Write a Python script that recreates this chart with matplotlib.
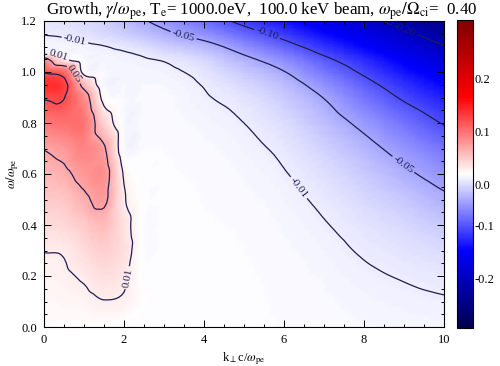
import numpy as np
import matplotlib
matplotlib.use("Agg")
import matplotlib.pyplot as plt
import matplotlib.tri as mtri
import matplotlib.transforms as mtrans
from matplotlib.ticker import MultipleLocator

plt.rcParams['font.family'] = ['Liberation Serif', 'DejaVu Serif']
plt.rcParams['mathtext.fontset'] = 'stix'

# ---------------- data ----------------
k_perp = [0, 0.5, 1, 1.5, 2, 2.5, 3, 4, 5, 6, 7, 8, 9, 10]
omega = [0, 0.1, 0.2, 0.3, 0.4, 0.5, 0.6, 0.7, 0.8, 0.9, 0.95, 1.0, 1.05, 1.075, 1.1, 1.15, 1.2]

# growth rate gamma/omega_pe in units of 1e-3, one row per omega value (columns follow k_perp)
g_w000 = [2, 1, 1, 0, -1, -1, -1.1, -1.3, -1.6, -2.4, -3.2, -4.2, -5.2, -5.9]
g_w010 = [4, 5, 6, 9.5, 8, 1, -1.1, -1.4, -1.7, -2.7, -3.9, -5.9, -7.6, -9.0]
g_w020 = [7, 8, 12, 18, 13, -1, -1.1, -1.5, -1.9, -3.1, -5.0, -8.2, -10.9, -13.5]
g_w030 = [10.5, 11.5, 20, 27, 18, -2, -1.2, -1.7, -2.2, -3.8, -6.6, -11.3, -15.6, -20.2]
g_w040 = [20, 22, 30, 38, 17, -2, -1.3, -2.0, -2.7, -4.9, -9.2, -15.6, -22.2, -30.2]
g_w050 = [30, 32, 45, 55, 12, -1, -1.5, -2.3, -3.5, -6.6, -12.8, -21.5, -31.5, -45.0]
g_w060 = [40, 45, 58, 62, 8, -1, -1.8, -2.8, -4.8, -9.2, -18.0, -29.9, -45.0, -60.8]
g_w070 = [51, 58, 70, 53, -3, -2, -2.3, -3.7, -6.8, -13.2, -25.8, -41.5, -60.3, -79.0]
g_w080 = [75, 80, 78, 26, -4, -3, -3.0, -5.6, -10.0, -19.5, -36.5, -57.0, -79.6, -102]
g_w090 = [103, 101, 65, 3, -4, -4, -3.6, -8.8, -15.8, -29.5, -50.8, -78.1, -104, -127]
g_w095 = [120, 110, 40, -3, -4.5, -4.5, -4.6, -10.8, -21.5, -37.5, -62, -90, -117, -142]
g_w100 = [98, 85, 3, -3, -5, -6, -6.8, -15.0, -30.5, -49, -77, -105, -133, -159]
g_w105 = [60, 11, -3, -5, -7, -9, -11.5, -23, -44, -65, -94, -121, -150, -177]
g_w1075 = [-1, -3, -5, -7, -9, -12.5, -18.5, -31, -53, -76, -105, -132, -160, -187]
g_w110 = [-4, -5, -7, -9.5, -13.5, -19, -27, -40, -63, -88, -116, -143, -171, -198]
g_w115 = [-10.5, -12, -16, -21, -27.5, -35, -44, -62, -86, -111, -139, -164, -192, -220]
g_w120 = [-14, -17, -21, -27, -36, -48, -59, -82, -109, -134, -161, -188, -216, -245]

contour_levels = [-0.20, -0.10, -0.05, -0.01, 0.01, 0.05, 0.10]
cbar_ticks = [-0.2, -0.1, 0.0, 0.1, 0.2]
cbar_range = 0.29

# ---------------- build the field ----------------
Z = np.array([g_w000, g_w010, g_w020, g_w030, g_w040, g_w050, g_w060, g_w070,
              g_w080, g_w090, g_w095, g_w100, g_w105, g_w1075, g_w110, g_w115, g_w120]) / 1000.0
K, W = np.meshgrid(k_perp, omega)
nk, nw = len(k_perp), len(omega)
tris = []
for j in range(nw - 1):
    for i in range(nk - 1):
        a = j * nk + i
        b = a + 1
        c = a + nk
        d = c + 1
        tris.append([a, b, d])
        tris.append([a, d, c])
sx, sy = 10.0, 1.2
tri_s = mtri.Triangulation(K.ravel() / sx, W.ravel() / sy, tris)
interp = mtri.CubicTriInterpolator(tri_s, Z.ravel(), kind='geom')
refiner = mtri.UniformTriRefiner(tri_s)
tri_r, z_r = refiner.refine_field(Z.ravel(), triinterpolator=interp, subdiv=3)
tri_p = mtri.Triangulation(tri_r.x * sx, tri_r.y * sy, tri_r.triangles)

# ---------------- figure ----------------
fig = plt.figure(figsize=(5.0, 3.66), dpi=100)
ax = fig.add_axes([44 / 500, (366 - 327) / 366, 400 / 500, 306 / 366])
cax = fig.add_axes([457 / 500, (366 - 328) / 366, 16 / 500, 308 / 366])

tpc = ax.tripcolor(tri_p, z_r, shading='gouraud', cmap='seismic',
                   vmin=-cbar_range, vmax=cbar_range, rasterized=True)
cs = ax.tricontour(tri_p, z_r, levels=contour_levels, colors='#1e1e50',
                   linewidths=0.9, linestyles='solid')
label_spots = [(0.8, 1.14), (6.4, 0.55), (0.4, 1.07), (0.7, 0.99), (2.2, 0.19),
               (3.5, 1.15), (8.9, 0.62), (5.6, 1.16), (9.0, 1.16)]
ax.clabel(cs, fmt='%.2f', fontsize=8, manual=label_spots, inline=True, inline_spacing=2)

ax.set_xlim(0, 10)
ax.set_ylim(0, 1.2)
ax.xaxis.set_major_locator(MultipleLocator(2))
ax.xaxis.set_minor_locator(MultipleLocator(0.5))
ax.yaxis.set_major_locator(MultipleLocator(0.2))
ax.yaxis.set_minor_locator(MultipleLocator(0.05))
ax.tick_params(which='both', direction='in', top=True, right=True, labelsize=9, width=0.7)
ax.tick_params(which='major', length=5, pad=5)
ax.tick_params(which='minor', length=2.5)
ax.set_xticklabels([f'{v:g}' for v in ax.get_xticks()])
ax.set_yticklabels([f'{v:.1f}' for v in ax.get_yticks()])
for s in ax.spines.values():
    s.set_linewidth(0.8)

ax.set_xlabel(r'k$_\perp$c/$\omega_{\mathrm{pe}}$', fontsize=9, labelpad=3)
ax.set_ylabel(r'$\omega/\omega_{\mathrm{pe}}$', fontsize=9, labelpad=0)

fig.text(477 / 500, 1 - 15 / 366,
         r'Growth, $\gamma/\omega_{\mathrm{pe}}$, T$_{\mathrm{e}}$= 1000.0eV,  100.0 keV beam, '
         r'$\omega_{\mathrm{pe}}/\Omega_{\mathrm{ci}}$=  0.40',
         ha='right', va='baseline', fontsize=12.2)

cb = fig.colorbar(tpc, cax=cax)
cb.set_ticks([])
cb.outline.set_linewidth(0.8)
offs = mtrans.ScaledTranslation(0, -12 / 100, fig.dpi_scale_trans)
for v in cbar_ticks:
    tr = cax.get_yaxis_transform()
    if v >= 0:
        tr = tr + offs
    cax.text(1.1, v, f'{v:.1f}', transform=tr, ha='left', va='center', fontsize=9)

fig.savefig('out.png', dpi=100)
